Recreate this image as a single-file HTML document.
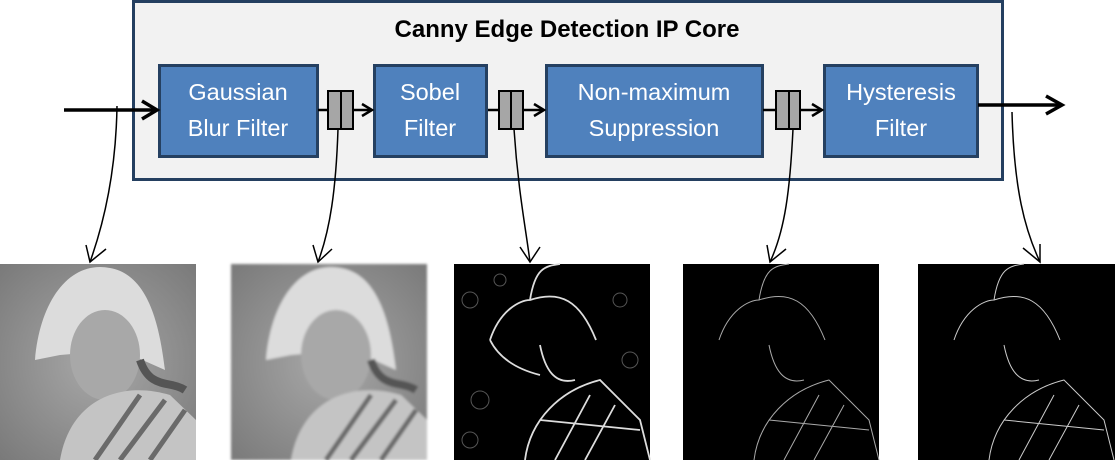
<!DOCTYPE html>
<html><head><meta charset="utf-8"><style>
html,body{margin:0;padding:0;background:#fff;width:1115px;height:460px;overflow:hidden}
svg{display:block}
text{font-family:"Liberation Sans",sans-serif}
</style></head><body>
<svg width="1115" height="460" viewBox="0 0 1115 460" xmlns="http://www.w3.org/2000/svg">
<defs>
<radialGradient id="bg1" cx="0.5" cy="0.5" r="0.7"><stop offset="0" stop-color="#a8a8a8"/><stop offset="1" stop-color="#7a7a7a"/></radialGradient>
<filter id="bl"><feGaussianBlur stdDeviation="1.2"/></filter>
</defs>
<rect x="133.5" y="1.5" width="869" height="178" fill="#f2f2f2" stroke="#243f60" stroke-width="3"/>
<text x="567" y="37" text-anchor="middle" font-size="24" font-weight="bold">Canny Edge Detection IP Core</text>

<g stroke="#254061" stroke-width="3" fill="#4f81bd">
<rect x="159.5" y="65.5" width="158" height="91"/>
<rect x="374.5" y="65.5" width="112" height="91"/>
<rect x="546.5" y="65.5" width="216" height="91"/>
<rect x="824.5" y="65.5" width="153" height="91"/>
</g>
<g fill="#fff" font-size="23.5" text-anchor="middle">
<text x="238" y="100">Gaussian</text><text x="238" y="136">Blur Filter</text>
<text x="430" y="100">Sobel</text><text x="430" y="136">Filter</text>
<text x="654" y="100">Non-maximum</text><text x="654" y="136">Suppression</text>
<text x="901" y="100">Hysteresis</text><text x="901" y="136">Filter</text>
</g>

<line x1="64" y1="110" x2="155" y2="110" stroke="#000" stroke-width="3.5"/>
<path d="M142,101 L157,110 L142,119" fill="none" stroke="#000" stroke-width="3.5"/>
<line x1="978" y1="105" x2="1060" y2="105" stroke="#000" stroke-width="3.5"/>
<path d="M1046,96 L1062,105 L1046,114" fill="none" stroke="#000" stroke-width="3.5"/>

<g stroke="#000" stroke-width="2.5">
<line x1="318" y1="110" x2="328" y2="110"/><line x1="353" y1="110" x2="370" y2="110"/>
<line x1="488" y1="110" x2="499" y2="110"/><line x1="523" y1="110" x2="542" y2="110"/>
<line x1="763" y1="110" x2="776" y2="110"/><line x1="800" y1="110" x2="820" y2="110"/>
</g>
<g fill="none" stroke="#000" stroke-width="2.5">
<path d="M362,104 L372,110 L362,116"/><path d="M534,104 L544,110 L534,116"/><path d="M812,104 L822,110 L812,116"/>
</g>
<g fill="#a6a6a6" stroke="#000" stroke-width="2">
<rect x="328" y="91" width="25" height="38"/><line x1="341" y1="91" x2="341" y2="129"/>
<rect x="499" y="91" width="24" height="38"/><line x1="511" y1="91" x2="511" y2="129"/>
<rect x="776" y="91" width="24" height="38"/><line x1="789" y1="91" x2="789" y2="129"/>
</g>

<g fill="none" stroke="#000" stroke-width="1.5">
<path d="M117,106 C116,170 105,220 90,262"/>
<path d="M338,129 C336,190 330,230 318,262"/>
<path d="M514,129 C518,190 526,230 530,262"/>
<path d="M793,129 C790,190 785,230 770,262"/>
<path d="M1012,112 C1014,190 1025,230 1040,262"/>
<path d="M86,245 L90,262 L106,249"/>
<path d="M313,245 L318,262 L332,249"/>
<path d="M520,247 L530,262 L540,247"/>
<path d="M767,245 L770,262 L786,249"/>
<path d="M1023,248 L1040,262 L1040,244"/>
</g>

<g id="photo">
<rect x="0" y="264" width="196" height="196" fill="url(#bg1)"/>
<path d="M35,360 C40,300 70,260 110,268 C150,275 160,330 165,370 L120,350 L60,355 Z" fill="#dcdcdc"/>
<ellipse cx="105" cy="355" rx="35" ry="45" fill="#a8a8a8"/>
<path d="M60,460 C70,400 120,380 170,395 L196,420 L196,460 Z" fill="#c4c4c4"/>
<path d="M95,460 L140,395 M120,460 L165,400 M150,460 L185,410" stroke="#6a6a6a" stroke-width="5"/>
<path d="M140,360 C150,390 170,380 185,390" stroke="#555" stroke-width="8" fill="none"/>
</g>
<g transform="translate(231,0)" filter="url(#bl)">
<rect x="0" y="264" width="196" height="196" fill="url(#bg1)"/>
<path d="M35,360 C40,300 70,260 110,268 C150,275 160,330 165,370 L120,350 L60,355 Z" fill="#dcdcdc"/>
<ellipse cx="105" cy="355" rx="35" ry="45" fill="#a8a8a8"/>
<path d="M60,460 C70,400 120,380 170,395 L196,420 L196,460 Z" fill="#c4c4c4"/>
<path d="M95,460 L140,395 M120,460 L165,400 M150,460 L185,410" stroke="#6a6a6a" stroke-width="5"/>
<path d="M140,360 C150,390 170,380 185,390" stroke="#555" stroke-width="8" fill="none"/>
</g>

<g>
<rect x="454" y="264" width="196" height="196" fill="#000"/>
<g fill="none" stroke="#ddd" stroke-width="1.8">
<path d="M490,340 C500,310 520,300 530,300 C560,290 580,300 596,340"/>
<path d="M490,340 C500,360 520,370 540,375 M530,300 C535,268 545,266 560,264"/>
<path d="M525,460 C530,420 560,390 600,380 L640,420 L650,460"/>
<path d="M555,460 L590,395 M585,460 L615,405 M540,420 L640,430"/>
<path d="M540,345 C545,370 555,385 575,380"/>
</g>
<g fill="none" stroke="#555" stroke-width="1">
<circle cx="470" cy="300" r="8"/><circle cx="480" cy="400" r="9"/><circle cx="620" cy="300" r="7"/><circle cx="470" cy="440" r="8"/><circle cx="500" cy="280" r="6"/><circle cx="630" cy="360" r="8"/>
</g>
</g>
<g>
<rect x="683" y="264" width="196" height="196" fill="#000"/>
<g fill="none" stroke="#aaa" stroke-width="1">
<path d="M719,340 C729,310 749,300 759,300 C789,290 809,300 825,340"/>
<path d="M759,300 C764,268 774,266 789,264"/>
<path d="M754,460 C759,420 789,390 829,380 L869,420 L879,460"/>
<path d="M784,460 L819,395 M814,460 L844,405 M769,420 L869,430"/>
<path d="M769,345 C774,370 784,385 804,380"/>
</g>
</g>
<g>
<rect x="918" y="264" width="197" height="196" fill="#000"/>
<g fill="none" stroke="#ccc" stroke-width="1">
<path d="M954,340 C964,310 984,300 994,300 C1024,290 1044,300 1060,340"/>
<path d="M994,300 C999,268 1009,266 1024,264"/>
<path d="M989,460 C994,420 1024,390 1064,380 L1104,420 L1114,460"/>
<path d="M1019,460 L1054,395 M1049,460 L1079,405 M1004,420 L1104,430"/>
<path d="M1004,345 C1009,370 1019,385 1039,380"/>
</g>
</g>
</svg>
</body></html>
